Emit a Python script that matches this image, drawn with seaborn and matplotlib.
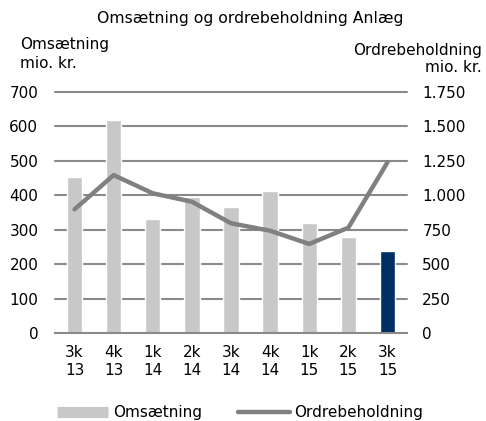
import matplotlib
matplotlib.use("Agg")
import matplotlib.pyplot as plt
import seaborn as sns
import numpy as np
import pandas as pd
from matplotlib.lines import Line2D

categories = ["3k\n13", "4k\n13", "1k\n14", "2k\n14", "3k\n14", "4k\n14", "1k\n15", "2k\n15", "3k\n15"]
omsaetning = [452, 619, 330, 395, 367, 412, 321, 278, 238]
ordrebeholdning = [898, 1146, 1014, 953, 797, 743, 647, 765, 1238]
left_ticks = [0, 100, 200, 300, 400, 500, 600, 700]
right_ticks = [0, 250, 500, 750, 1000, 1250, 1500, 1750]
right_tick_labels = ["0", "250", "500", "750", "1.000", "1.250", "1.500", "1.750"]

sns.set_theme(style="white")
plt.rcParams["font.family"] = ["DejaVu Sans"]
plt.rcParams["text.color"] = "#000000"
FS = 11

bar_grey = "#c8c8c8"
navy = "#002f65"
line_grey = "#808080"
grid_grey = "#8a8a8a"

fig = plt.figure(figsize=(4.86, 4.21), dpi=100)
ax = fig.add_axes([55/486, 1-333.3/421, (407-55)/486, (333.3-91.7)/421])

df = pd.DataFrame({"cat": categories, "val": omsaetning})
colors = [bar_grey] * (len(categories) - 1) + [navy]
sns.barplot(data=df, x="cat", y="val", hue="cat", palette=colors, legend=False,
            width=0.39, ax=ax, saturation=1, zorder=2)

ax.set_ylim(0, 700)
ax.set_xlim(-0.5, len(categories) - 0.5)
ax.set_yticks(left_ticks)
ax.set_yticklabels([str(t) for t in left_ticks], fontsize=FS, color="#000000")
ax.set_xlabel("")
ax.set_ylabel("")
ax.tick_params(axis="y", length=0, pad=12)
ax.tick_params(axis="x", length=0, pad=8.5, labelsize=FS, colors="#000000")
for t in left_ticks[1:]:
    ax.axhline(t, color=grid_grey, lw=1.5, zorder=1, clip_on=False)
for s in ["top", "left", "right"]:
    ax.spines[s].set_visible(False)
ax.spines["bottom"].set_color(grid_grey)
ax.spines["bottom"].set_linewidth(1.5)
ax.spines["bottom"].set_zorder(3)

ax2 = ax.twinx()
sns.lineplot(x=np.arange(len(categories)), y=ordrebeholdning, ax=ax2,
             color=line_grey, lw=3.2, zorder=4)
ax2.set_ylim(0, 1750)
ax2.set_yticks(right_ticks)
ax2.set_yticklabels(right_tick_labels, fontsize=FS, color="#000000")
ax2.tick_params(axis="y", length=0, pad=11)
for s in ["top", "left", "right", "bottom"]:
    ax2.spines[s].set_visible(False)
ax2.set_xlim(-0.5, len(categories) - 0.5)

fig.text(250/486, 1-18/421, "Omsætning og ordrebeholdning Anlæg", ha="center", va="center", fontsize=FS + 0.3)
fig.text(20/486, 1-45/421, "Omsætning", ha="left", va="center", fontsize=FS)
fig.text(20/486, 1-63/421, "mio. kr.", ha="left", va="center", fontsize=FS)
fig.text(482/486, 1-50/421, "Ordrebeholdning", ha="right", va="center", fontsize=FS)
fig.text(482/486, 1-68/421, "mio. kr.", ha="right", va="center", fontsize=FS)

handles = [Line2D([0], [0], color=bar_grey, lw=8, solid_capstyle="butt"),
           Line2D([0], [0], color=line_grey, lw=3.2, solid_capstyle="round")]
fig.legend(handles, ["Omsætning", "Ordrebeholdning"], loc="center",
           bbox_to_anchor=(240/486, 1-413/421), ncol=2, frameon=False,
           fontsize=FS, handlelength=3.4, handletextpad=0.33, columnspacing=2.3,
           borderpad=0, borderaxespad=0, labelcolor="#000000")

fig.savefig("out.png", dpi=100)
